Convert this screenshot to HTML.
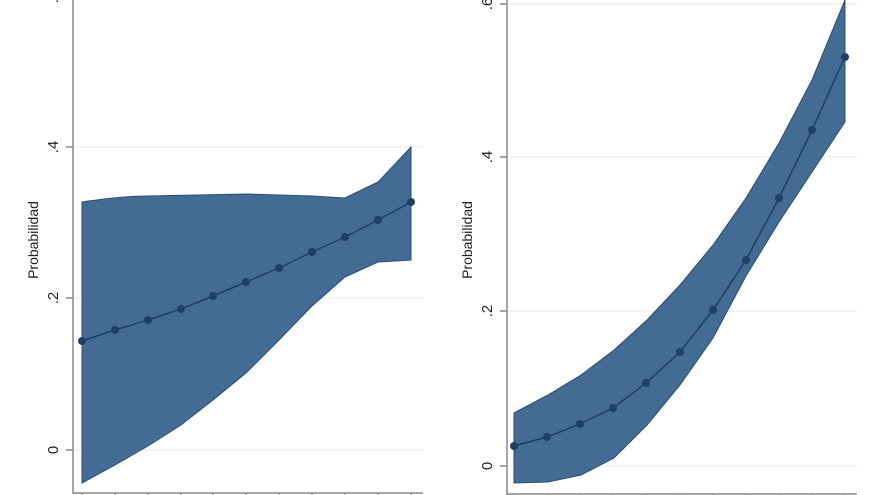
<!DOCTYPE html><html><head><style>body{margin:0;background:#fff}svg{display:block}</style></head><body>
<svg width="880" height="495" viewBox="0 0 880 495" font-family="Liberation Sans, sans-serif">
<g stroke="#eaeaea" stroke-width="1">
<line x1="73" y1="450" x2="423" y2="450"/><line x1="73" y1="298" x2="423" y2="298"/><line x1="73" y1="147" x2="423" y2="147"/><line x1="73" y1="-4" x2="423" y2="-4"/>
<line x1="507" y1="466" x2="857" y2="466"/><line x1="507" y1="311" x2="857" y2="311"/><line x1="507" y1="157" x2="857" y2="157"/><line x1="507" y1="4" x2="857" y2="4"/>
</g>
<path d="M82,202 C110,198 130,196 148,196 L246,194 L312,196 L345,198 L378,182 L411,147 L411,260 L378,262 L345,277 L312,306 L279,340 L246,373 L213,400 L181,425 L148,446 L115,465 L82,483 Z" fill="#436b93" stroke="#2a4d75" stroke-width="1"/>
<polyline points="82,341 115,330 148,320 181,309 213,296 246,282 279,268 312,252 345,237 378,220 411,202" fill="none" stroke="#1e3f66" stroke-width="1.5"/>
<g fill="#1e3f66"><circle cx="82" cy="341" r="4"/><circle cx="115" cy="330" r="4"/><circle cx="148" cy="320" r="4"/><circle cx="181" cy="309" r="4"/><circle cx="213" cy="296" r="4"/><circle cx="246" cy="282" r="4"/><circle cx="279" cy="268" r="4"/><circle cx="312" cy="252" r="4"/><circle cx="345" cy="237" r="4"/><circle cx="378" cy="220" r="4"/><circle cx="411" cy="202" r="4"/></g>
<path d="M514,413 L548,395 L581,375 L614,350 L647,320 L680,285 L713,245 L746,198 L779,143 L812,80 L845,0 L845,122 L812,172 L779,222 L746,276 L713,338 L680,385 L647,425 L614,458 L581,475 L548,482 L514,483 Z" fill="#436b93" stroke="#2a4d75" stroke-width="1"/>
<polyline points="514,446 547,437 580,424 613,408 646,383 680,352 713,310 746,260 779,198 812,130 845,57" fill="none" stroke="#1e3f66" stroke-width="1.5"/>
<g fill="#1e3f66"><circle cx="514" cy="446" r="4"/><circle cx="547" cy="437" r="4"/><circle cx="580" cy="424" r="4"/><circle cx="613" cy="408" r="4"/><circle cx="646" cy="383" r="4"/><circle cx="680" cy="352" r="4"/><circle cx="713" cy="310" r="4"/><circle cx="746" cy="260" r="4"/><circle cx="779" cy="198" r="4"/><circle cx="812" cy="130" r="4"/><circle cx="845" cy="57" r="4"/></g>
<g stroke="#888" stroke-width="1.5" fill="none">
<line x1="73" y1="0" x2="73" y2="494"/><line x1="73" y1="493" x2="423" y2="493"/>
<line x1="66" y1="450" x2="73" y2="450"/><line x1="66" y1="298" x2="73" y2="298"/><line x1="66" y1="147" x2="73" y2="147"/>
<line x1="507" y1="0" x2="507" y2="495"/><line x1="507" y1="494" x2="857" y2="494"/>
<line x1="500" y1="466" x2="507" y2="466"/><line x1="500" y1="311" x2="507" y2="311"/><line x1="500" y1="157" x2="507" y2="157"/><line x1="500" y1="4" x2="507" y2="4"/>
</g>
<g stroke="#888" stroke-width="1.2">
<line x1="82" y1="493" x2="82" y2="497"/><line x1="115" y1="493" x2="115" y2="497"/><line x1="148" y1="493" x2="148" y2="497"/><line x1="181" y1="493" x2="181" y2="497"/><line x1="213" y1="493" x2="213" y2="497"/><line x1="246" y1="493" x2="246" y2="497"/><line x1="279" y1="493" x2="279" y2="497"/><line x1="312" y1="493" x2="312" y2="497"/><line x1="345" y1="493" x2="345" y2="497"/><line x1="378" y1="493" x2="378" y2="497"/><line x1="411" y1="493" x2="411" y2="497"/>
<line x1="514" y1="494" x2="514" y2="497"/><line x1="547" y1="494" x2="547" y2="497"/><line x1="580" y1="494" x2="580" y2="497"/><line x1="613" y1="494" x2="613" y2="497"/><line x1="646" y1="494" x2="646" y2="497"/><line x1="680" y1="494" x2="680" y2="497"/><line x1="713" y1="494" x2="713" y2="497"/><line x1="746" y1="494" x2="746" y2="497"/><line x1="779" y1="494" x2="779" y2="497"/><line x1="812" y1="494" x2="812" y2="497"/><line x1="845" y1="494" x2="845" y2="497"/>
</g>
<g font-size="15" fill="#222" text-anchor="middle">
<text transform="translate(58,450) rotate(-90)">0</text><text transform="translate(58,298) rotate(-90)">.2</text><text transform="translate(58,147) rotate(-90)">.4</text><text transform="translate(58,-3) rotate(-90)">.6</text>
<text transform="translate(492,466) rotate(-90)">0</text><text transform="translate(492,311) rotate(-90)">.2</text><text transform="translate(492,157) rotate(-90)">.4</text><text transform="translate(492,4) rotate(-90)">.6</text>
<text font-size="14" transform="translate(38,240) rotate(-90)">Probabilidad</text>
<text font-size="14" transform="translate(472,240) rotate(-90)">Probabilidad</text>
</g>
</svg></body></html>
